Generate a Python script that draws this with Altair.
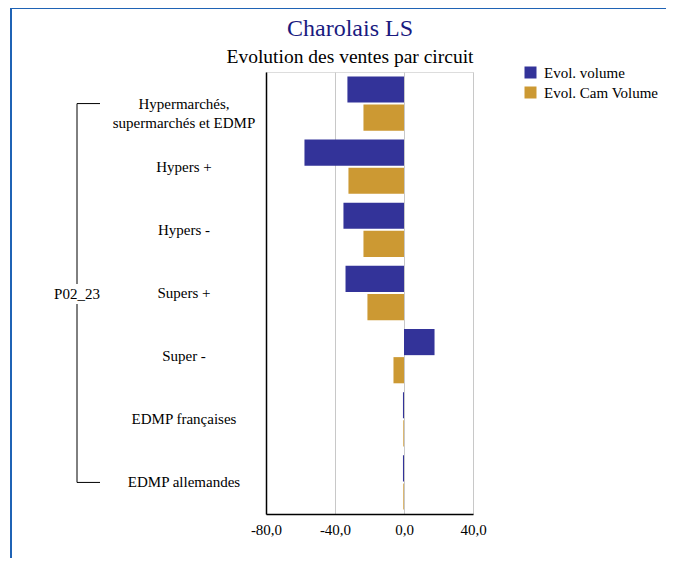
import altair as alt
import pandas as pd

categories = ["Hypermarchés,\nsupermarchés et EDMP", "Hypers +", "Hypers -", "Supers +",
              "Super -", "EDMP françaises", "EDMP allemandes"]
series = ["Evol. volume", "Evol. Cam Volume"]
evol_volume = [-32.8, -57.7, -35.1, -33.9, 17.7, -0.6, -0.6]
evol_cam = [-23.5, -32.2, -23.5, -21.2, -6.1, -0.4, -0.4]
colors = ["#333399", "#CC9933"]
x_ticks = [-80, -40, 0, 40]
group_label = "P02_23"
title_main = "Charolais LS"
title_sub = "Evolution des ventes par circuit"

FONT = "Liberation Serif"

rows = []
for c, v, w in zip(categories, evol_volume, evol_cam):
    rows.append({"cat": c, "series": series[0], "value": v})
    rows.append({"cat": c, "series": series[1], "value": w})
df = pd.DataFrame(rows)
cat_df = pd.DataFrame({"cat": categories})
one = pd.DataFrame({"a": [0]})
ends = pd.DataFrame({"cat": [categories[0], categories[-1]]})

yscale = alt.Scale(domain=categories, paddingInner=0.14, paddingOuter=0.07)

bars = alt.Chart(df).mark_bar().encode(
    y=alt.Y("cat:N", scale=yscale, sort=categories,
            axis=alt.Axis(labels=False, ticks=False, title=None, domainColor="#000000",
                          domainWidth=1.5, grid=False)),
    yOffset=alt.YOffset("series:N", sort=series, scale=alt.Scale(paddingInner=0.07)),
    x=alt.X("value:Q", scale=alt.Scale(domain=[-80, 40], nice=False),
            axis=alt.Axis(values=x_ticks, title=None, ticks=False, domainColor="#000000",
                          domainWidth=1.5, gridColor="#c8c8c8", gridWidth=1,
                          labelFont=FONT, labelFontSize=15, labelColor="#000000",
                          labelPadding=8, labelFlush=False,
                          labelExpr="replace(replace(format(datum.value, '.1f'), '.', ','), '\u2212', '-')")),
    color=alt.Color("series:N", scale=alt.Scale(domain=series, range=colors),
                    legend=alt.Legend(title=None, orient="none", legendX=257, legendY=-7,
                                      symbolType="square", symbolSize=144,
                                      symbolStrokeWidth=0, labelFont=FONT,
                                      labelFontSize=15, labelColor="#000000",
                                      labelOffset=6, rowPadding=4, padding=0)),
)

labels = alt.Chart(cat_df).mark_text(font=FONT, fontSize=15, color="#000000",
                                     align="center", baseline="middle",
                                     lineBreak="\n", lineHeight=19).encode(
    y=alt.Y("cat:N", scale=yscale, sort=categories),
    x=alt.value(-82),
    text="cat:N",
)

vline = alt.Chart(one).mark_rule(color="#000000", strokeWidth=1).encode(
    x=alt.value(-189),
    y=alt.Y("y1:N", scale=yscale, sort=categories),
    y2="y2:N",
).transform_calculate(y1=f"'{categories[0]}'".replace("\n", "\\n"),
                      y2=f"'{categories[-1]}'")

arms = alt.Chart(ends).mark_rule(color="#000000", strokeWidth=1).encode(
    y=alt.Y("cat:N", scale=yscale, sort=categories),
    x=alt.value(-189),
    x2=alt.value(-166),
)

mask = alt.Chart(one).mark_rect(color="#ffffff").encode(
    x=alt.value(-216), x2=alt.value(-162), y=alt.value(212), y2=alt.value(232))

glabel = alt.Chart(one).mark_text(font=FONT, fontSize=15, color="#000000",
                                  align="center", baseline="middle").encode(
    x=alt.value(-189), y=alt.value(222), text=alt.value(group_label))

t1 = alt.Chart(one).mark_text(font=FONT, fontSize=24, color="#1a1a80",
                              align="center", baseline="alphabetic").encode(
    x=alt.value(84), y=alt.value(-36), text=alt.value(title_main))
t2 = alt.Chart(one).mark_text(font=FONT, fontSize=19.5, color="#000000",
                              align="center", baseline="alphabetic").encode(
    x=alt.value(84), y=alt.value(-9), text=alt.value(title_sub))

frame = alt.Chart(one).mark_rect(fill="transparent", stroke="#1f63b5", strokeWidth=2).encode(
    x=alt.value(-255), x2=alt.value(600), y=alt.value(-64), y2=alt.value(800))

chart = alt.layer(frame, t1, t2, bars, labels, vline, arms, mask, glabel).properties(
    width=207, height=442,
    padding={"left": 258, "top": 64, "right": 193, "bottom": 44},
    autosize=alt.AutoSizeParams(type="none"),
).configure_view(stroke=None).configure(background="#ffffff")

chart.save("out.html", embed_options={"renderer": "svg", "actions": False})
